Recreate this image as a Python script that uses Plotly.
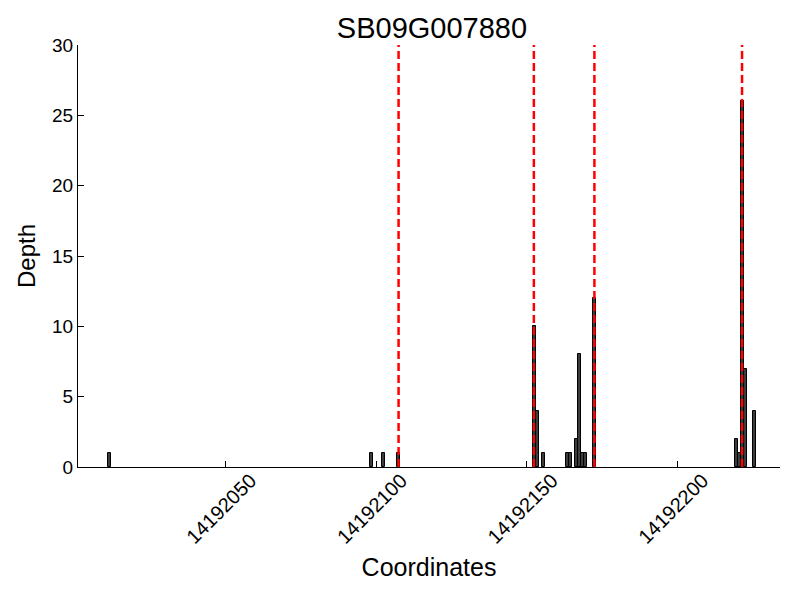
import plotly.graph_objects as go

title = "SB09G007880"
positions = [14192011, 14192098, 14192102, 14192107,
             14192152, 14192153, 14192155,
             14192163, 14192164, 14192166, 14192167, 14192168, 14192169, 14192172,
             14192219, 14192220, 14192221, 14192222, 14192225]
depths = [1, 1, 1, 1,
          10, 4, 1,
          1, 1, 2, 8, 1, 1, 12,
          2, 1, 26, 7, 4]
boundaries = [14192107.4, 14192152.3, 14192172.4, 14192221.4]
x_ticks = [14192050, 14192100, 14192150, 14192200]
y_ticks = [0, 5, 10, 15, 20, 25, 30]
x_range = [14192001, 14192234]
y_range = [0, 30]

font = "Liberation Sans, Arial, sans-serif"

fig = go.Figure()
fig.add_trace(go.Bar(
    x=positions, y=depths, width=1, offset=0,
    marker=dict(color="#3c3c3c", line=dict(color="black", width=1)),
    showlegend=False,
))
for b in boundaries:
    fig.add_shape(type="line", xref="x", yref="paper", x0=b, x1=b, y0=0, y1=1,
                  line=dict(color="red", width=2.5, dash="8px,4px"), layer="above")

fig.update_layout(
    width=800, height=600,
    paper_bgcolor="white", plot_bgcolor="white",
    margin=dict(l=70, r=28, t=37, b=141),
    font=dict(family=font, size=19, color="black"),
    title=dict(text=title, x=0.53, xanchor="center", y=0.967, yanchor="middle",
               font=dict(size=29, family=font, color="black")),
    bargap=0,
)
fig.update_xaxes(
    range=x_range, tickvals=x_ticks, ticktext=[str(t) for t in x_ticks],
    tickangle=-45, ticks="inside", ticklen=6, tickcolor="black",
    ticklabelshift=25, ticklabelstandoff=-7,
    showline=True, linecolor="black", linewidth=1, showgrid=False, zeroline=False,
    automargin=False,
    title=dict(text="Coordinates", font=dict(size=25, family=font), standoff=11),
    tickfont=dict(size=20, family=font),
)
fig.update_yaxes(
    range=y_range, tickvals=y_ticks, ticks="inside", ticklen=6, tickcolor="black",
    showline=True, linecolor="black", linewidth=1, showgrid=False, zeroline=False,
    automargin=False,
    title=dict(text="Depth", font=dict(size=24, family=font), standoff=9),
    tickfont=dict(size=19, family=font),
)

fig.write_html("out.html")
